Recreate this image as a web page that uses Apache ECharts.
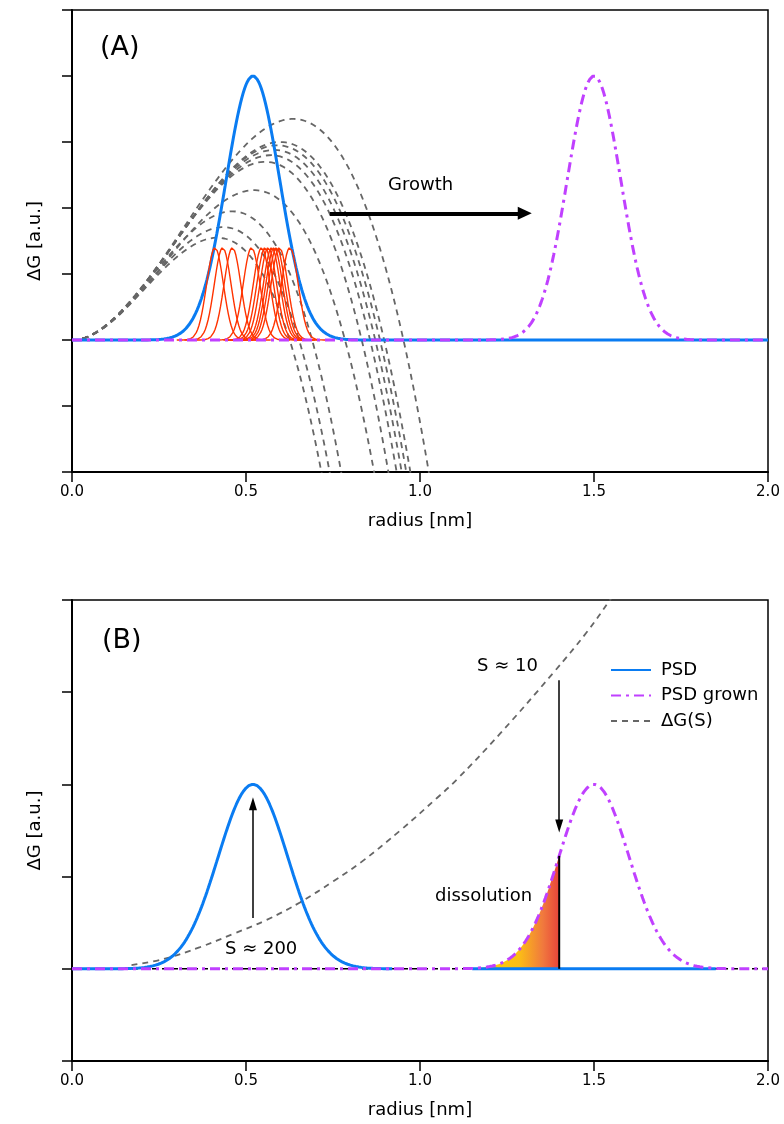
<!DOCTYPE html>
<html><head><meta charset="utf-8">
<script src="https://cdn.jsdelivr.net/npm/echarts@6/dist/echarts.min.js"></script>
<style>html,body{margin:0;padding:0;background:#fff}#c{width:784px;height:1124px}</style>
</head><body><div id="c"></div>
<script>
// ---------- data ----------
const xTicks = [0, 0.5, 1.0, 1.5, 2.0];
const yRangeA = [-2, 5];
const yRangeB = [-1, 4];
// size distributions (centre nm, peak height, width nm)
const psdCenter = 0.52, grownCenter = 1.50;
const psdPeakA = 4.0, psdSigmaA = 0.077;
const psdPeakB = 2.0, psdSigmaB = 0.100, grownSigmaB = 0.101;
// narrow (red) distributions in panel A
const redCenters = [0.411, 0.433, 0.461, 0.516, 0.545, 0.555, 0.564, 0.574, 0.581, 0.588, 0.596, 0.626];
const redPeak = 1.40, redSigma = 0.024;
// nucleation barrier curves in panel A: peak radius and peak height
const barrierPeakR = [0.417, 0.435, 0.460, 0.523, 0.555, 0.571, 0.581, 0.590, 0.598, 0.635];
const barrierPeakG = [1.55, 1.71, 1.95, 2.27, 2.70, 2.80, 2.88, 2.95, 3.00, 3.35];
// ΔG(S) curve in panel B
const dgSR = [0.171, 0.262, 0.368, 0.464, 0.559, 0.655, 0.751, 0.832, 0.943, 1.048, 1.105, 1.230, 1.383, 1.479, 1.546, 1.600];
const dgSG = [0.04, 0.105, 0.235, 0.38, 0.53, 0.72, 0.95, 1.16, 1.50, 1.85, 2.05, 2.55, 3.21, 3.65, 4.00, 4.29];
// annotations
const growthArrow = [[0.741, 1.92], [1.321, 1.92]];
const arrow200 = [[0.52, 0.55], [0.52, 1.86]];
const arrow10 = [[1.40, 3.13], [1.40, 1.48]];
const dissolutionRange = [1.17, 1.40];
const psdBRange = [0, 0.92];
const psdBTail = [1.15, 1.85];

// ---------- helpers ----------
const FONT = 'DejaVu Sans';
const step = 0.004;
function gauss(c, h, s, r) { return h * Math.exp(-((r - c) * (r - c)) / (2 * s * s)); }
function curve(c, h, s, a, b) {
  const out = [];
  for (let r = a; r <= b + 1e-9; r += step) out.push([+r.toFixed(4), gauss(c, h, s, r)]);
  const last = out[out.length - 1][0];
  if (last < b) out.push([b, gauss(c, h, s, b)]);
  return out;
}
function barrier(rp, gp) {
  const out = [];
  for (let r = 0.03; r <= rp * 1.85; r += step) {
    const u = r / rp;
    out.push([r, gp * (3 * u * u - 2 * u * u * u)]);
  }
  return out;
}
const BLUE = '#0a7cf2', MAG = '#c040ff', RED = '#ff3300', GRAY = '#666666';
const magDash = [10, 5, 3, 5];

const series = [];
// Panel A
barrierPeakR.forEach((rp, i) => {
  series.push({ type: 'line', name: 'barrierA', xAxisIndex: 0, yAxisIndex: 0, data: barrier(rp, barrierPeakG[i]),
    showSymbol: false, symbol: 'none', z: 2, lineStyle: { color: GRAY, width: 1.8, type: [6, 5] } });
});
series.push({ type: 'line', name: 'PSD A', xAxisIndex: 0, yAxisIndex: 0, data: curve(psdCenter, psdPeakA, psdSigmaA, 0, 2),
  showSymbol: false, symbol: 'none', z: 3, lineStyle: { color: BLUE, width: 3 },
  markLine: { silent: true, symbol: ['none', 'triangle'], symbolSize: [13, 14], label: { show: false },
    lineStyle: { color: '#000', width: 4, type: 'solid' },
    data: [[{ coord: growthArrow[0] }, { coord: [growthArrow[1][0] - 0.02, growthArrow[1][1]] }]] } });
redCenters.forEach(c => {
  series.push({ type: 'line', name: 'redA', xAxisIndex: 0, yAxisIndex: 0, data: curve(c, redPeak, redSigma, c - 0.11, c + 0.11),
    showSymbol: false, symbol: 'none', z: 4, lineStyle: { color: RED, width: 1.4 } });
});
series.push({ type: 'line', name: 'grown A', xAxisIndex: 0, yAxisIndex: 0, data: curve(grownCenter, psdPeakA, psdSigmaA, 0, 2),
  showSymbol: false, symbol: 'none', z: 5, lineStyle: { color: MAG, width: 3, type: magDash } });

// Panel B
series.push({ type: 'line', name: 'zeroB', xAxisIndex: 1, yAxisIndex: 1, data: [[0, 0], [2, 0]],
  showSymbol: false, symbol: 'none', z: 1, lineStyle: { color: '#000', width: 1.5, type: [6, 4] } });
series.push({ type: 'line', name: 'dissolution', xAxisIndex: 1, yAxisIndex: 1,
  data: curve(grownCenter, psdPeakB, grownSigmaB, dissolutionRange[0], dissolutionRange[1]),
  showSymbol: false, symbol: 'none', z: 2, lineStyle: { width: 0 },
  areaStyle: { opacity: 1, color: new echarts.graphic.LinearGradient(0, 0, 1, 0, [
    { offset: 0, color: '#ffd400' }, { offset: 0.5, color: '#fbbd16' }, { offset: 0.8, color: '#f0783e' }, { offset: 1, color: '#e8443a' }]) } });
series.push({ type: 'line', name: 'ΔG(S)', xAxisIndex: 1, yAxisIndex: 1, data: dgSR.map((r, i) => [r, dgSG[i]]),
  smooth: 0.4, showSymbol: false, symbol: 'none', z: 3, lineStyle: { color: GRAY, width: 1.8, type: [6, 5] } });
series.push({ type: 'line', name: 'PSD', xAxisIndex: 1, yAxisIndex: 1, data: curve(psdCenter, psdPeakB, psdSigmaB, psdBRange[0], psdBRange[1]),
  showSymbol: false, symbol: 'none', z: 4, lineStyle: { color: BLUE, width: 3 } });
series.push({ type: 'line', name: 'PSD tail', xAxisIndex: 1, yAxisIndex: 1, data: [[psdBTail[0], 0], [psdBTail[1], 0]],
  showSymbol: false, symbol: 'none', z: 4, lineStyle: { color: BLUE, width: 3 } });
series.push({ type: 'line', name: 'PSD grown', xAxisIndex: 1, yAxisIndex: 1, data: curve(grownCenter, psdPeakB, grownSigmaB, 0, 2),
  showSymbol: false, symbol: 'none', z: 5, lineStyle: { color: MAG, width: 3, type: magDash } });
const cutTop = gauss(grownCenter, psdPeakB, grownSigmaB, dissolutionRange[1]);
series.push({ type: 'line', name: 'cut', xAxisIndex: 1, yAxisIndex: 1, data: [[dissolutionRange[1], 0], [dissolutionRange[1], cutTop]],
  showSymbol: false, symbol: 'none', z: 6, lineStyle: { color: '#000', width: 2 },
  markLine: { silent: true, symbol: ['none', 'triangle'], symbolSize: [8, 13], label: { show: false },
    lineStyle: { color: '#000', width: 1.5, type: 'solid' },
    data: [
      [{ coord: arrow200[0] }, { coord: [arrow200[1][0], arrow200[1][1] - 0.07] }],
      [{ coord: arrow10[0] }, { coord: [arrow10[1][0], arrow10[1][1] + 0.07] }]
    ] } });

function xAx(idx) {
  return { type: 'value', gridIndex: idx, min: xTicks[0], max: xTicks[xTicks.length - 1], interval: 0.5,
    name: 'radius [nm]', nameLocation: 'middle', nameGap: 40,
    nameTextStyle: { fontFamily: FONT, fontSize: 18, color: '#000' },
    axisLine: { onZero: false, lineStyle: { color: '#000', width: 2 } },
    axisTick: { inside: false, length: 10, lineStyle: { color: '#000', width: 1.5 } },
    axisLabel: { formatter: v => v.toFixed(1), fontFamily: FONT, fontSize: 15, color: '#000', margin: 13 },
    splitLine: { show: false } };
}
function yAx(idx, rng) {
  return { type: 'value', gridIndex: idx, min: rng[0], max: rng[1], interval: 1,
    name: 'ΔG [a.u.]', nameLocation: 'middle', nameGap: 28, nameRotate: 90,
    nameTextStyle: { fontFamily: FONT, fontSize: 18, color: '#000' },
    axisLine: { onZero: false, lineStyle: { color: '#000', width: 2 } },
    axisTick: { inside: false, length: 10, lineStyle: { color: '#000', width: 1.5 } },
    axisLabel: { show: false }, splitLine: { show: false } };
}

const chart = echarts.init(document.getElementById('c'), null, { renderer: 'canvas' });
chart.setOption({
  animation: false,
  backgroundColor: '#fff',
  grid: [
    { left: 72, top: 10, width: 696, height: 462, show: true, borderColor: '#000', borderWidth: 1.5 },
    { left: 72, top: 600, width: 696, height: 461, show: true, borderColor: '#000', borderWidth: 1.5 }
  ],
  xAxis: [xAx(0), xAx(1)],
  yAxis: [yAx(0, yRangeA), yAx(1, yRangeB)],
  legend: { data: ['PSD', 'PSD grown', 'ΔG(S)'], orient: 'vertical', left: 605, top: 656,
    itemWidth: 40, itemHeight: 14, itemGap: 7.5, selectedMode: false,
    itemStyle: { opacity: 0 },
    textStyle: { fontFamily: FONT, fontSize: 18, color: '#000', padding: [0, 0, 0, 5] } },
  graphic: [
    { type: 'text', left: 100, top: 34, style: { text: '(A)', font: '27px ' + FONT, fill: '#000' } },
    { type: 'text', left: 388, top: 176, style: { text: 'Growth', font: '18px ' + FONT, fill: '#000' } },
    { type: 'text', left: 102, top: 627, style: { text: '(B)', font: '27px ' + FONT, fill: '#000' } },
    { type: 'text', left: 477, top: 657, style: { text: 'S ≈ 10', font: '18px ' + FONT, fill: '#000' } },
    { type: 'text', left: 225, top: 940, style: { text: 'S ≈ 200', font: '18px ' + FONT, fill: '#000' } },
    { type: 'text', left: 435, top: 887, style: { text: 'dissolution', font: '18px ' + FONT, fill: '#000' } }
  ],
  series: series
});
</script></body></html>
